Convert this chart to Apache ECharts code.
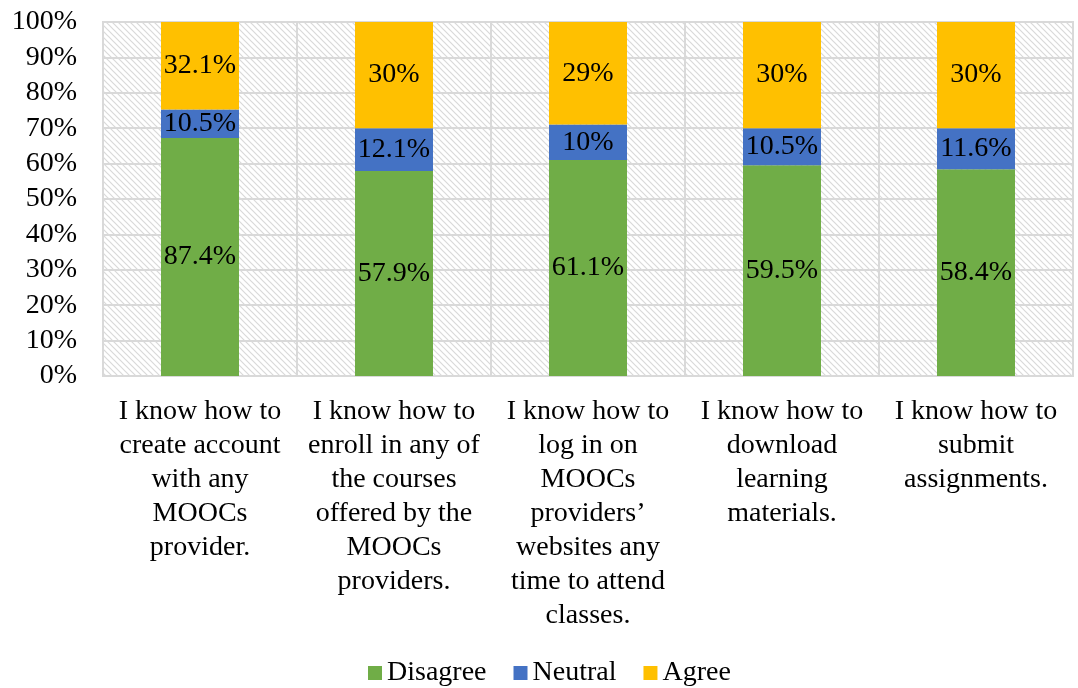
<!DOCTYPE html>
<html>
<head>
<meta charset="utf-8">
<script src="https://cdn.jsdelivr.net/npm/echarts@6/dist/echarts.min.js"></script>
<style>
html,body{margin:0;padding:0;background:#fff;}
#chart{width:1078px;height:688px;}
</style>
</head>
<body>
<div id="chart"></div>
<script>
const categories = [
  "I know how to\ncreate account\nwith any\nMOOCs\nprovider.",
  "I know how to\nenroll in any of\nthe courses\noffered by the\nMOOCs\nproviders.",
  "I know how to\nlog in on\nMOOCs\nproviders\u2019\nwebsites any\ntime to attend\nclasses.",
  "I know how to\ndownload\nlearning\nmaterials.",
  "I know how to\nsubmit\nassignments."
];
const disagree = [87.4, 57.9, 61.1, 59.5, 58.4];
const neutral  = [10.5, 12.1, 10.0, 10.5, 11.6];
const agree    = [32.1, 30.0, 29.0, 30.0, 30.0];
const seriesNames = ["Disagree", "Neutral", "Agree"];
const yTicks = [0,10,20,30,40,50,60,70,80,90,100];

const totals = categories.map((_, i) => disagree[i] + neutral[i] + agree[i]);
const pct = arr => arr.map((v, i) => ({value: v / totals[i] * 100, raw: v}));

// hatch pattern
const pc = document.createElement('canvas');
pc.width = 6; pc.height = 6;
const ctx = pc.getContext('2d');
ctx.fillStyle = '#ffffff';
ctx.fillRect(0,0,6,6);
ctx.strokeStyle = '#d9d9d9';
ctx.lineWidth = 1.2;
ctx.beginPath();
ctx.moveTo(-1,-1); ctx.lineTo(7,7);
ctx.moveTo(-7,-1); ctx.lineTo(1,7);
ctx.moveTo(5,-1); ctx.lineTo(13,7);
ctx.stroke();

const font = '"Liberation Serif", "Times New Roman", serif';
const colors = ['#70ad47', '#4472c4', '#ffc000'];

const chart = echarts.init(document.getElementById('chart'));
const mk = (name, arr, color) => ({
  name: name,
  type: 'bar',
  stack: 'total',
  barWidth: 78,
  data: pct(arr),
  itemStyle: {color: color},
  label: {
    show: true,
    position: 'inside',
    fontFamily: font,
    fontSize: 28,
    color: '#000',
    formatter: p => {
      const r = p.data.raw;
      return (Math.round(r * 10) / 10) + '%';
    }
  }
});

chart.setOption({
  animation: false,
  textStyle: {fontFamily: font},
  grid: {
    left: 103, right: 5, top: 22, bottom: 312,
    show: true,
    backgroundColor: {image: pc, repeat: 'repeat'},
    borderColor: '#d9d9d9',
    borderWidth: 2
  },
  legend: {
    left: 363,
    top: 654,
    itemWidth: 14,
    itemHeight: 14,
    itemGap: 27,
    icon: 'rect',
    textStyle: {fontFamily: font, fontSize: 28, color: '#000', padding: [0,0,0,0]},
    data: seriesNames
  },
  xAxis: {
    type: 'category',
    data: categories,
    axisLine: {show: true, lineStyle: {color: '#d9d9d9', width: 2}},
    axisTick: {show: false},
    splitLine: {show: true, lineStyle: {color: '#d9d9d9', width: 2}},
    axisLabel: {
      interval: 0,
      margin: 19,
      fontFamily: font,
      fontSize: 28,
      lineHeight: 34,
      color: '#000',
      align: 'center'
    }
  },
  yAxis: {
    type: 'value',
    min: yTicks[0],
    max: yTicks[yTicks.length - 1],
    interval: 10,
    axisLine: {show: false},
    axisTick: {show: false},
    splitLine: {show: true, lineStyle: {color: '#d9d9d9', width: 2}},
    axisLabel: {
      margin: 26,
      fontFamily: font,
      fontSize: 28,
      color: '#000',
      formatter: '{value}%'
    }
  },
  series: [
    mk(seriesNames[0], disagree, colors[0]),
    mk(seriesNames[1], neutral, colors[1]),
    mk(seriesNames[2], agree, colors[2])
  ]
});
</script>
</body>
</html>
